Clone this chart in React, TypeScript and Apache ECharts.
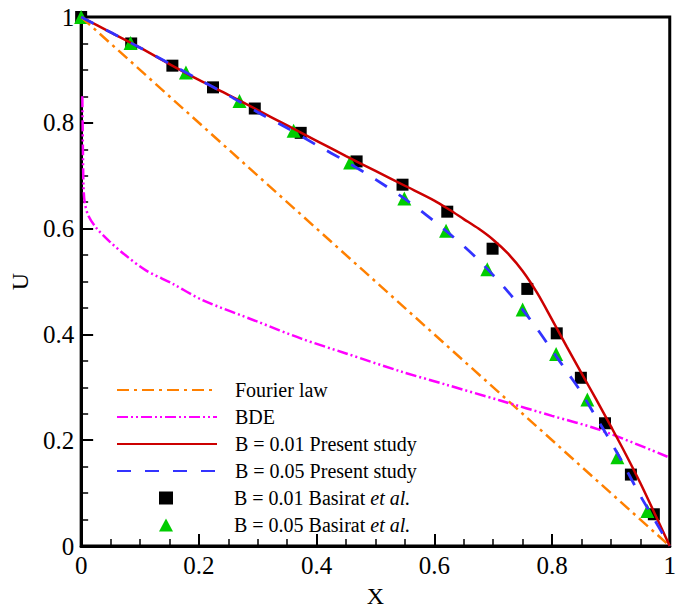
import React, { useEffect, useRef } from "react";
import * as echarts from "echarts";

const FONT = "Liberation Serif";

const fourierX = [0, 1];
const fourierU = [1, 0];

const bdeX = [0.002, 0.003, 0.004, 0.006, 0.012, 0.026, 0.048, 0.076, 0.11, 0.155, 0.206, 0.3, 0.374, 0.45, 0.543, 0.62, 0.712, 0.8, 0.88, 1.0];
const bdeU = [0.85, 0.75, 0.68, 0.65, 0.625, 0.601, 0.576, 0.549, 0.521, 0.496, 0.465, 0.424, 0.392, 0.364, 0.33, 0.305, 0.275, 0.246, 0.22, 0.167];

const presentX = [0, 0.05, 0.1, 0.15, 0.2, 0.25, 0.3, 0.35, 0.4, 0.45, 0.5, 0.55, 0.6, 0.625, 0.65, 0.675, 0.7, 0.725, 0.75, 0.775, 0.8, 0.825, 0.85, 0.875, 0.9, 0.925, 0.95, 0.975, 1.0];
const b001U = [1.0, 0.971, 0.942, 0.911, 0.881, 0.853, 0.824, 0.795, 0.766, 0.737, 0.709, 0.681, 0.653, 0.636, 0.618, 0.6, 0.579, 0.553, 0.52, 0.478, 0.428, 0.377, 0.327, 0.277, 0.226, 0.174, 0.119, 0.06, 0.0];
const b005U = [1.0, 0.971, 0.942, 0.912, 0.882, 0.852, 0.82, 0.79, 0.758, 0.727, 0.693, 0.656, 0.614, 0.591, 0.567, 0.541, 0.512, 0.481, 0.447, 0.41, 0.37, 0.33, 0.29, 0.243, 0.197, 0.147, 0.095, 0.048, 0.0];

const basirat001X = [0, 0.085, 0.155, 0.224, 0.295, 0.373, 0.468, 0.546, 0.622, 0.699, 0.758, 0.808, 0.849, 0.89, 0.934, 0.973];
const basirat001U = [1.0, 0.95, 0.908, 0.867, 0.827, 0.781, 0.727, 0.683, 0.632, 0.562, 0.486, 0.402, 0.318, 0.232, 0.135, 0.06];

const basirat005X = [0, 0.084, 0.178, 0.269, 0.361, 0.457, 0.549, 0.62, 0.69, 0.75, 0.807, 0.86, 0.911, 0.962];
const basirat005U = [1.0, 0.951, 0.895, 0.841, 0.785, 0.725, 0.657, 0.596, 0.523, 0.447, 0.363, 0.277, 0.168, 0.066];

const lineNames = [
  "Fourier law",
  "BDE",
  "B = 0.01 Present study",
  "B = 0.05 Present study",
];
const markerNames = [
  "B = 0.01 Basirat et al.",
  "B = 0.05 Basirat et al.",
];

const zip = (xs: number[], ys: number[]) => xs.map((x, i) => [x, ys[i]]);

export default function App() {
  const ref = useRef<HTMLDivElement>(null);
  useEffect(() => {
    if (!ref.current) return;
    const chart = echarts.init(ref.current, null, { renderer: "svg" });
    const axisCommon = {
      type: "value" as const,
      min: 0,
      max: 1,
      interval: 0.2,
      nameTextStyle: { fontFamily: FONT, fontSize: 24, color: "#000" },
      axisLine: { show: true, lineStyle: { color: "#000", width: 3 } },
      axisTick: { show: true, inside: true, length: 12, lineStyle: { color: "#000", width: 2 } },
      minorTick: { show: true, splitNumber: 4, length: 7, lineStyle: { color: "#000", width: 1.5 } },
      splitLine: { show: false },
      minorSplitLine: { show: false },
      axisLabel: { fontFamily: FONT, fontSize: 25, color: "#000", margin: 7 },
    };
    const legendText = (padLeft: number) => ({
      fontFamily: FONT,
      fontSize: 20,
      color: "#000",
      padding: [0, 0, 0, padLeft],
      rich: {
        n: { fontFamily: FONT, fontSize: 20, color: "#000", lineHeight: 20 },
        i: { fontFamily: FONT, fontSize: 20, color: "#000", fontStyle: "italic", lineHeight: 20 },
      },
    });
    const fmt = (name: string) =>
      name.endsWith("et al.") ? `{n|${name.replace(" et al.", " ")}}{i|et al.}` : `{n|${name}}`;
    chart.setOption({
      animation: false,
      backgroundColor: "#fff",
      textStyle: { fontFamily: FONT },
      grid: {
        left: 78,
        top: 17,
        right: 8,
        bottom: 54,
        show: true,
        borderColor: "#000",
        borderWidth: 3,
        backgroundColor: "transparent",
      },
      xAxis: {
        ...axisCommon,
        name: "X",
        nameLocation: "middle",
        nameGap: 38,
      },
      yAxis: {
        ...axisCommon,
        name: "U",
        nameLocation: "middle",
        nameRotate: 90,
        nameGap: 44,
      },
      legend: [
        {
          orient: "vertical",
          left: 116,
          top: 380,
          padding: 0,
          itemWidth: 100,
          itemHeight: 13,
          itemGap: 7,
          data: lineNames,
          formatter: fmt,
          textStyle: legendText(13),
        },
        {
          orient: "vertical",
          left: 159,
          top: 488,
          padding: 0,
          itemWidth: 14,
          itemHeight: 13,
          itemGap: 7,
          symbolKeepAspect: true,
          data: markerNames,
          formatter: fmt,
          textStyle: legendText(56),
        },
      ],
      series: [
        {
          name: lineNames[0],
          type: "line",
          symbol: "none",
          data: zip(fourierX, fourierU),
          lineStyle: { color: "#ff8000", width: 2.5, type: [12, 5, 3, 5] },
          itemStyle: { color: "#ff8000", opacity: 0 },
        },
        {
          name: lineNames[1],
          type: "line",
          symbol: "none",
          smooth: 0.3,
          data: zip(bdeX, bdeU),
          lineStyle: { color: "#ff00ff", width: 2.5, type: [11, 3, 2, 3, 2, 3] },
          itemStyle: { color: "#ff00ff", opacity: 0 },
        },
        {
          name: lineNames[2],
          type: "line",
          symbol: "none",
          smooth: 0.3,
          data: zip(presentX, b001U),
          lineStyle: { color: "#cc0000", width: 2.5 },
          itemStyle: { color: "#cc0000", opacity: 0 },
        },
        {
          name: lineNames[3],
          type: "line",
          symbol: "none",
          smooth: 0.3,
          data: zip(presentX, b005U),
          lineStyle: { color: "#3333ff", width: 2.8, type: [14, 14] },
          itemStyle: { color: "#3333ff", opacity: 0 },
        },
        {
          name: markerNames[0],
          type: "scatter",
          symbol: "rect",
          symbolSize: 12,
          clip: false,
          data: zip(basirat001X, basirat001U),
          itemStyle: { color: "#000", opacity: 1 },
        },
        {
          name: markerNames[1],
          type: "scatter",
          symbol: "triangle",
          symbolSize: 14,
          clip: false,
          data: zip(basirat005X, basirat005U),
          itemStyle: { color: "#00cc00", opacity: 1 },
        },
      ],
    });
    return () => chart.dispose();
  }, []);
  return <div ref={ref} style={{ position: "fixed", left: 0, top: 0, width: 679, height: 613 }} />;
}
